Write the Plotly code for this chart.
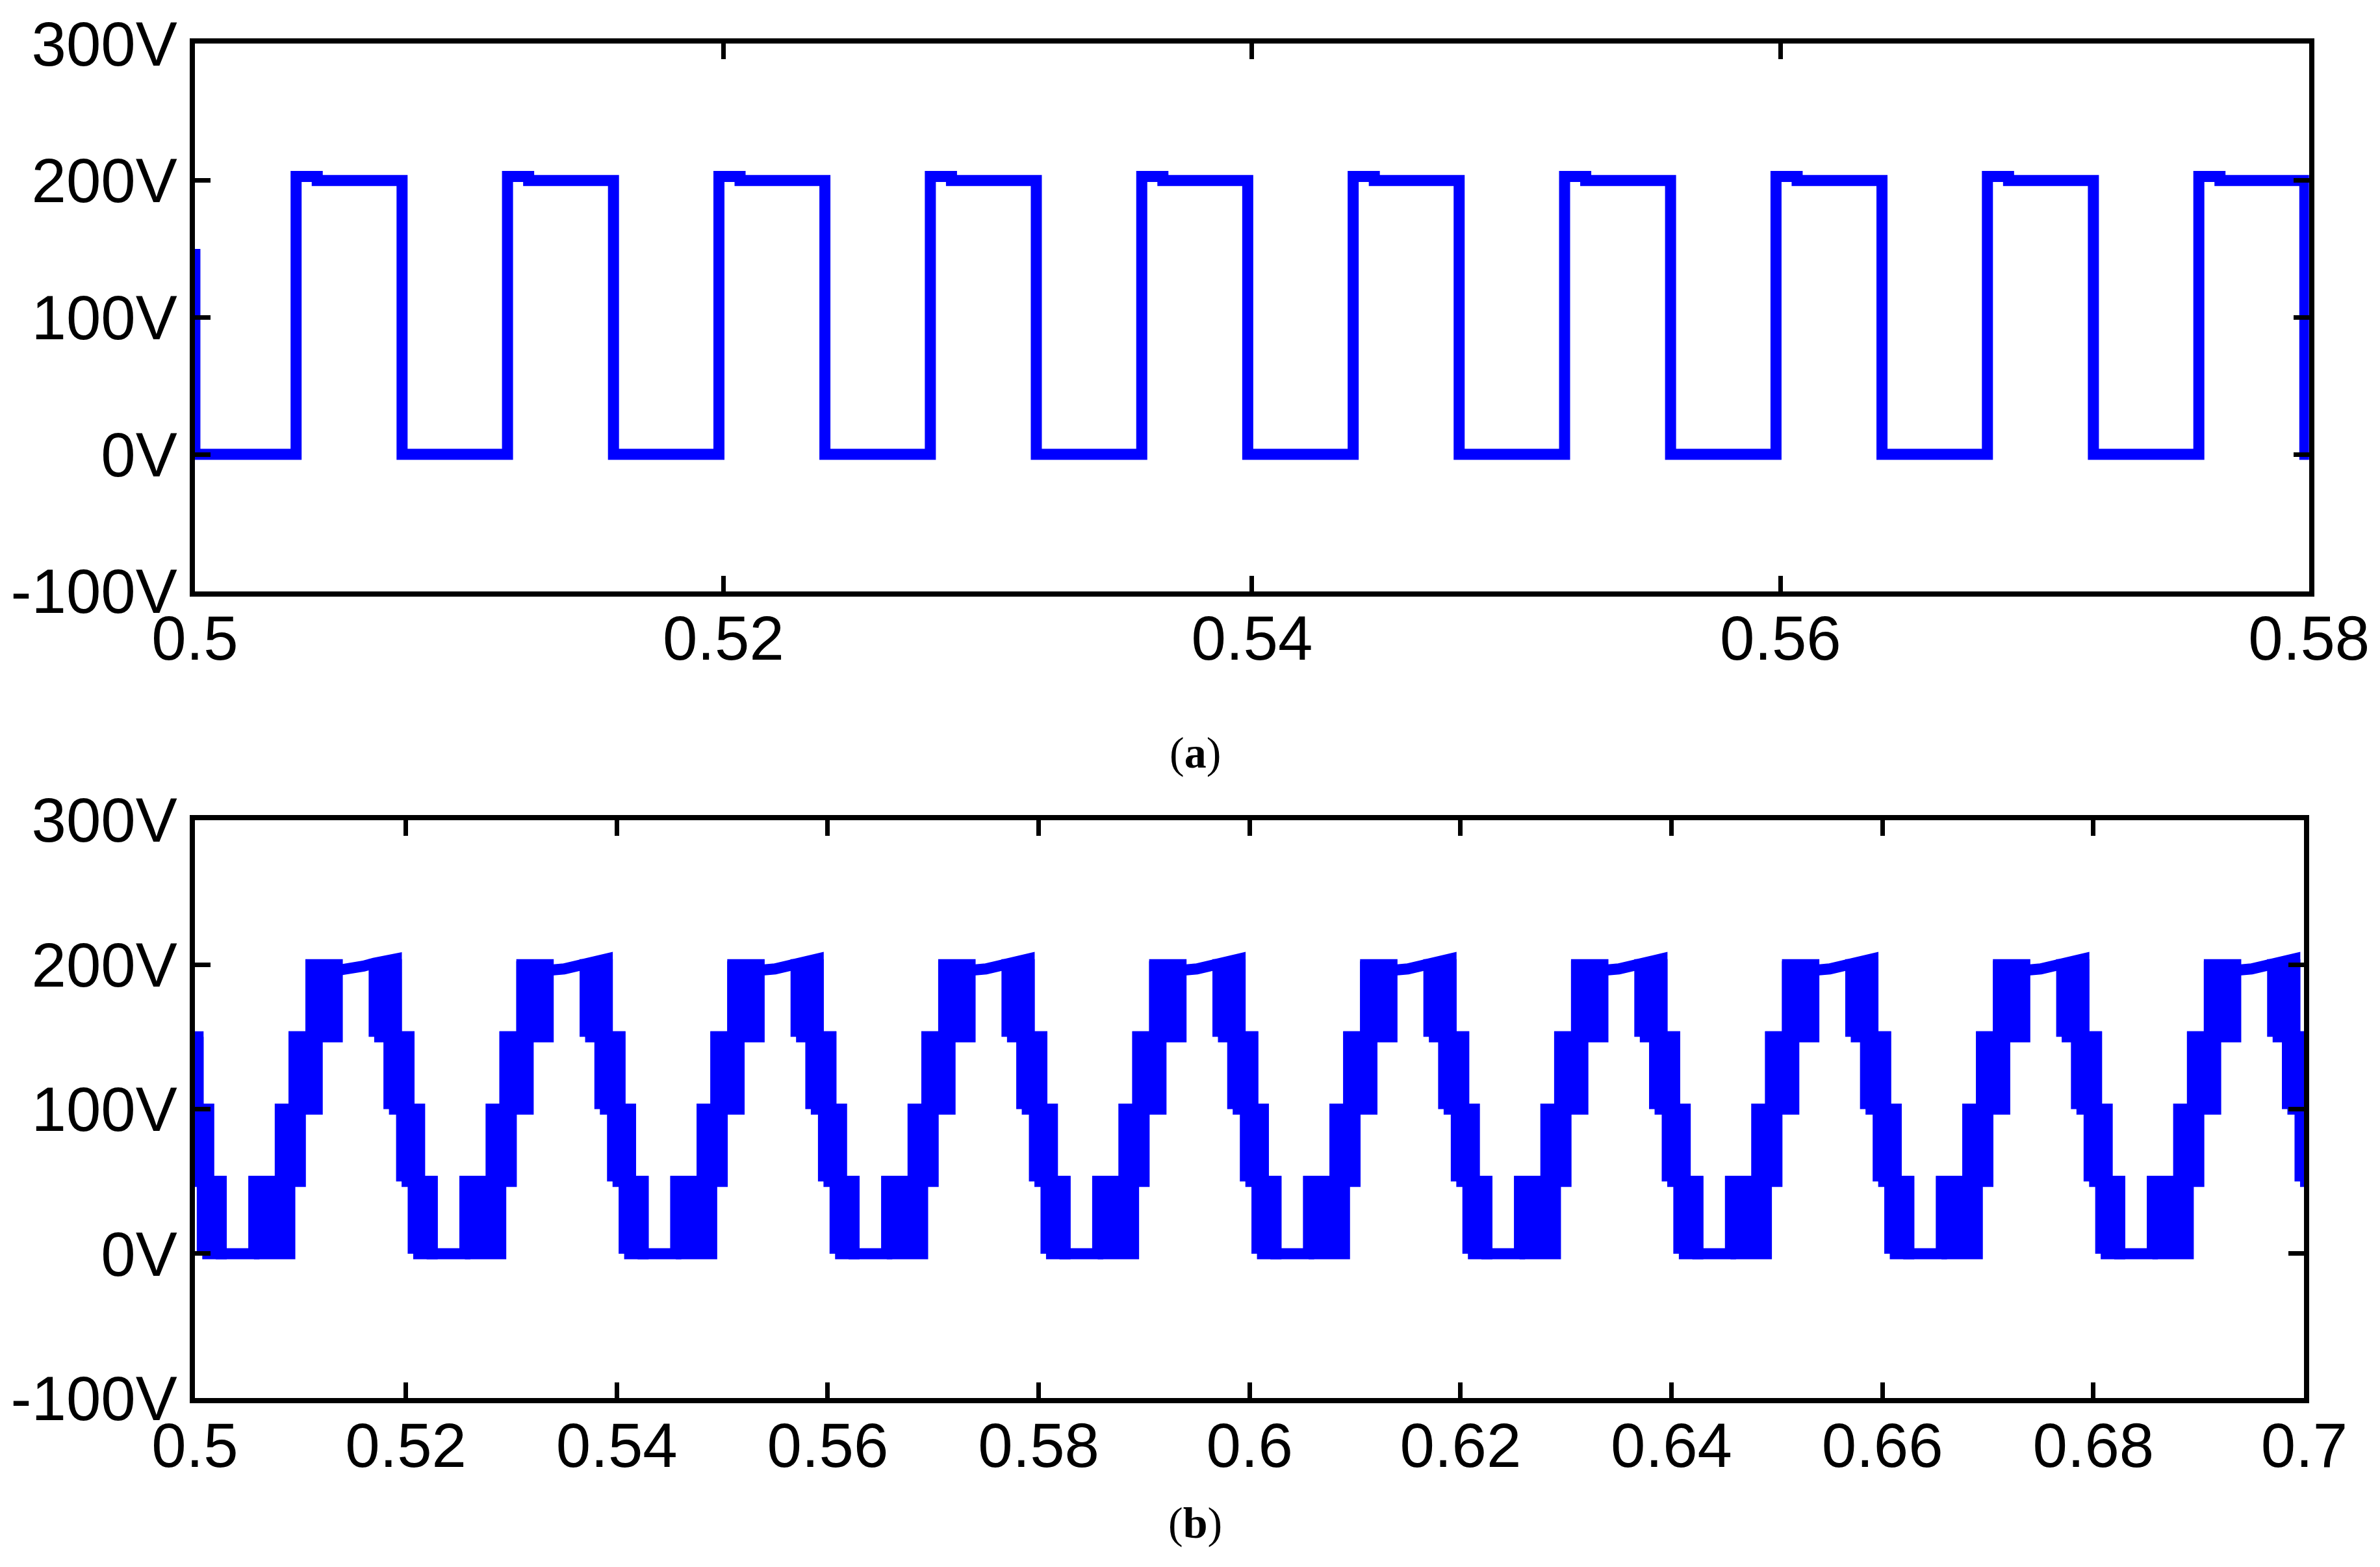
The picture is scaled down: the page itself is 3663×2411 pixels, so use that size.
import numpy as np
import plotly.graph_objects as go

# (a) square wave, period 8 ms
a_period_ms = 8.0
a_rise_ms = 3.83
a_fall_ms = 7.84
a_high = [203, 200]
a_start_spike = 150

# (b) staircase waveform, period 20 ms (offsets in ms within a period)
b_period_ms = 20.0
b_bands = [  # (t0, t1, low, high)
    (5.6, 9.0, 0, 50), (8.1, 10.0, 50, 100), (9.4, 11.6, 100, 150),
    (11.0, 13.5, 150, 200), (17.0, 19.1, 150, 200), (18.4, 20.3, 100, 150),
    (19.6, 21.3, 50, 100), (20.7, 22.5, 0, 50),
]
b_path_t = [2.5, 5.6, 5.6, 8.1, 8.1, 9.4, 9.4, 11.0, 11.0, 13.5, 15.0, 16.0, 17.0, 18.0, 19.1, 19.1, 20.3, 20.3, 21.3, 21.3, 22.5, 22.5]
b_path_v = [0, 0, 50, 50, 100, 100, 150, 150, 198, 196, 197, 199, 201, 203, 204, 150, 150, 100, 100, 50, 50, 0]

BLUE = "#0000ff"
LW = 17

fig = go.Figure()

# ---- panel (a)
ta, va = [0.5, 0.5], [a_start_spike, 0]
for k in range(10):
    r = 0.5 + (a_rise_ms + k * a_period_ms) / 1000
    f = 0.5 + (a_fall_ms + k * a_period_ms) / 1000
    ta += [r, r, r + 0.0008, r + 0.0008, f, f]
    va += [0, a_high[0], a_high[0], a_high[1], a_high[1], 0]
ta = [min(t, 0.58) for t in ta]
ta += [0.58, 0.58]
va += [va[-1], a_start_spike]
fig.add_trace(go.Scatter(x=ta, y=va, mode="lines", line=dict(color=BLUE, width=LW),
                         xaxis="x", yaxis="y", showlegend=False))

# ---- panel (b)
for k in range(-1, 10):
    off = 0.5 + k * b_period_ms / 1000
    for t0, t1, lo, hi in b_bands:
        x0, x1 = off + t0 / 1000, off + t1 / 1000
        x0, x1 = max(x0, 0.5), min(x1, 0.7)
        if x1 <= x0:
            continue
        fig.add_trace(go.Scatter(x=[x0, x1, x1, x0, x0], y=[lo, lo, hi, hi, lo], mode="lines",
                                 fill="toself", fillcolor=BLUE, line=dict(color=BLUE, width=LW),
                                 xaxis="x2", yaxis="y2", showlegend=False))
tb, vb = [0.5, 0.5], [150, 50]
for k in range(-1, 10):
    off = 0.5 + k * b_period_ms / 1000
    for t, v in zip(b_path_t, b_path_v):
        x = off + t / 1000
        if 0.5 <= x <= 0.7:
            tb.append(x)
            vb.append(v)
tb.append(0.7)
vb.append(vb[-1])
fig.add_trace(go.Scatter(x=tb, y=vb, mode="lines", line=dict(color=BLUE, width=LW),
                         xaxis="x2", yaxis="y2", showlegend=False))

ax = dict(showline=True, linecolor="black", linewidth=8, mirror="ticks", ticks="inside",
          ticklen=24, tickwidth=7, tickcolor="black", showgrid=False, zeroline=False,
          automargin=False, ticklabelstandoff=0,
          tickfont=dict(family="Liberation Sans", size=96, color="black"))
xax = dict(ax, ticklabelstandoff=-18)
yt = [-100, 0, 100, 200, 300]
fig.update_layout(
    width=3663, height=2411, plot_bgcolor="white", paper_bgcolor="white",
    margin=dict(l=0, r=0, t=0, b=0),
    xaxis=dict(xax, domain=[0.0797, 0.968], range=[0.5, 0.58], tickvals=[0.5, 0.52, 0.54, 0.56, 0.58],
               ticktext=["0.5", "0.52", "0.54", "0.56", "0.58"], anchor="y"),
    yaxis=dict(ax, domain=[0.626, 0.9755], range=[-100, 300], tickvals=yt,
               ticktext=[f"{v}V" for v in yt], anchor="x"),
    xaxis2=dict(xax, domain=[0.0797, 0.966], range=[0.5, 0.7],
                tickvals=[round(0.5 + 0.02 * i, 2) for i in range(11)],
                ticktext=[f"{0.5 + 0.02 * i:.2f}".rstrip("0") for i in range(11)], anchor="y2"),
    yaxis2=dict(ax, domain=[0.111, 0.480], range=[-100, 300], tickvals=yt,
                ticktext=[f"{v}V" for v in yt], anchor="x2"),
    annotations=[
        dict(text="(<b>a</b>)", x=0.5, y=1 - 1150 / 2411, xref="paper", yref="paper", showarrow=False,
             font=dict(family="Liberation Serif", size=68, color="black")),
        dict(text="(<b>b</b>)", x=0.5, y=1 - 2375 / 2411, xref="paper", yref="paper", showarrow=False,
             font=dict(family="Liberation Serif", size=68, color="black")),
    ],
)
fig.write_html("out.html")
